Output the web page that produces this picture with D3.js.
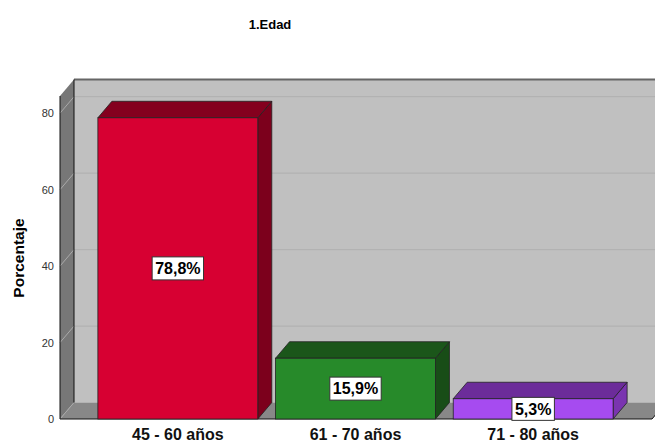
<!DOCTYPE html>
<html>
<head>
<meta charset="utf-8">
<script src="https://cdn.jsdelivr.net/npm/d3@7"></script>
<style>
  body { margin: 0; background: #fff; }
  svg { display: block; font-family: "Liberation Sans", Arial, sans-serif; }
</style>
</head>
<body>
<div id="chart"></div>
<script>
// data
var categories = ["45 - 60 años", "61 - 70 años", "71 - 80 años"];
var percents = [78.8, 15.9, 5.3];
var pctLabels = ["78,8%", "15,9%", "5,3%"];
var frontColors = ["#d70032", "#278a2a", "#a64bf0"];
var topColors = ["#84001e", "#1b561a", "#6c2c9a"];
var sideColors = ["#7c001c", "#184d17", "#7a34b0"];
var yTicks = [0, 20, 40, 60, 80];

var W = 655, H = 443;
var dx = 14, dy = 16.5;     // profondeur 3d
var x0 = 60, x1 = 652;      // plan avant
var yBase = 419;

var svg = d3.select('#chart').append('svg').attr('width', W).attr('height', H);

var y = d3.scaleLinear().domain([0, 84.5]).range([yBase, 96]);
var x = d3.scaleBand().domain(categories).range([89, 622]).paddingInner(0.1).paddingOuter(0.05);

// mur du fond
svg.append('rect')
  .attr('x', x0 + dx).attr('y', y(84.5) - dy)
  .attr('width', x1 - x0).attr('height', yBase - y(84.5))
  .style('fill', '#c0c0c0');

// grille sur le mur du fond
svg.selectAll('line.grid').data(yTicks.slice(1)).enter().append('line')
  .attr('class', 'grid')
  .attr('x1', x0 + dx).attr('x2', x1 + dx)
  .attr('y1', function(d){ return y(d) - dy; })
  .attr('y2', function(d){ return y(d) - dy; })
  .style('stroke', '#b2b2b2').style('stroke-width', 1.2);

// bord haut du mur
svg.append('line')
  .attr('x1', x0 + dx).attr('x2', W + 20)
  .attr('y1', y(84.5) - dy).attr('y2', y(84.5) - dy)
  .style('stroke', '#666').style('stroke-width', 2);

// sol
svg.append('polygon')
  .attr('points', [[x0, yBase], [x1, yBase], [x1 + dx, yBase - dy], [x0 + dx, yBase - dy]].join(' '))
  .style('fill', '#888888');

// mur gauche
svg.append('polygon')
  .attr('points', [[x0, y(84.5)], [x0 + dx, y(84.5) - dy], [x0 + dx, yBase - dy], [x0, yBase]].join(' '))
  .style('fill', '#777777');

// traits diagonaux des graduations
svg.selectAll('line.tickdiag').data(yTicks).enter().append('line')
  .attr('class', 'tickdiag')
  .attr('x1', x0).attr('x2', x0 + dx)
  .attr('y1', function(d){ return y(d); })
  .attr('y2', function(d){ return y(d) - dy; })
  .style('stroke', '#aaaaaa').style('stroke-width', 1);

svg.append('line').attr('x1', x0).attr('x2', x0).attr('y1', y(84.5)).attr('y2', yBase)
  .style('stroke', '#111').style('stroke-width', 1);
svg.append('line').attr('x1', x0 + dx).attr('x2', x0 + dx).attr('y1', y(84.5) - dy).attr('y2', yBase - dy)
  .style('stroke', '#111').style('stroke-width', 1);
svg.append('line').attr('x1', x0).attr('x2', x1).attr('y1', yBase).attr('y2', yBase)
  .style('stroke', '#111').style('stroke-width', 1);
svg.append('line').attr('x1', x1).attr('x2', x1 + dx).attr('y1', yBase).attr('y2', yBase - dy)
  .style('stroke', '#111').style('stroke-width', 1);

// axe y
var yAxis = d3.axisLeft(y).tickValues(yTicks).tickSize(0).tickPadding(6);
var gy = svg.append('g').attr('transform', 'translate(' + x0 + ',0)').call(yAxis);
gy.select('.domain').remove();
gy.selectAll('text').style('font-size', '11px').style('fill', '#333').style('font-family', '"Liberation Sans", Arial, sans-serif');

// barres 3d
var bars = svg.selectAll('g.bar').data(percents).enter().append('g').attr('class', 'bar');
bars.each(function(d, i){
  var g = d3.select(this);
  var bx0 = x(categories[i]), bx1 = bx0 + x.bandwidth(), yt = y(d);
  g.append('polygon')
    .attr('points', [[bx1, yt], [bx1 + dx, yt - dy], [bx1 + dx, yBase - dy], [bx1, yBase]].join(' '))
    .style('fill', sideColors[i]).style('stroke', '#222').style('stroke-width', 0.8);
  g.append('polygon')
    .attr('points', [[bx0, yt], [bx1, yt], [bx1 + dx, yt - dy], [bx0 + dx, yt - dy]].join(' '))
    .style('fill', topColors[i]).style('stroke', '#222').style('stroke-width', 0.8);
  g.append('rect')
    .attr('x', bx0).attr('y', yt).attr('width', x.bandwidth()).attr('height', yBase - yt)
    .style('fill', frontColors[i]).style('stroke', '#222').style('stroke-width', 0.8);

  // etiquette
  var cx = bx0 + x.bandwidth() / 2, cy = (yt + yBase) / 2;
  var lab = g.append('g');
  var box = lab.append('rect');
  var t = lab.append('text')
    .attr('x', cx).attr('y', cy).attr('dy', '0.36em')
    .attr('text-anchor', 'middle')
    .style('font-size', '16px').style('font-weight', 'bold').style('fill', '#000')
    .text(pctLabels[i]);
  var bb = t.node().getBBox();
  box.attr('x', cx - bb.width / 2 - 3).attr('y', cy - 11.5)
    .attr('width', bb.width + 6).attr('height', 23)
    .style('fill', '#fff').style('stroke', '#333').style('stroke-width', 1);
});

// axe x (etiquettes)
var xAxis = d3.axisBottom(x).tickSize(0).tickPadding(10);
var gx = svg.append('g').attr('transform', 'translate(0,' + yBase + ')').call(xAxis);
gx.select('.domain').remove();
gx.selectAll('text').style('font-size', '16px').style('font-weight', 'bold').style('fill', '#111')
  .style('font-family', '"Liberation Sans", Arial, sans-serif');

// titre
svg.append('text').attr('x', 270).attr('y', 29).attr('text-anchor', 'middle')
  .style('font-size', '13px').style('font-weight', 'bold').text('1.Edad');

// titre axe y
svg.append('text')
  .attr('transform', 'translate(24,258) rotate(-90)')
  .attr('text-anchor', 'middle')
  .style('font-size', '15.5px').style('font-weight', 'bold').text('Porcentaje');
</script>
</body>
</html>
